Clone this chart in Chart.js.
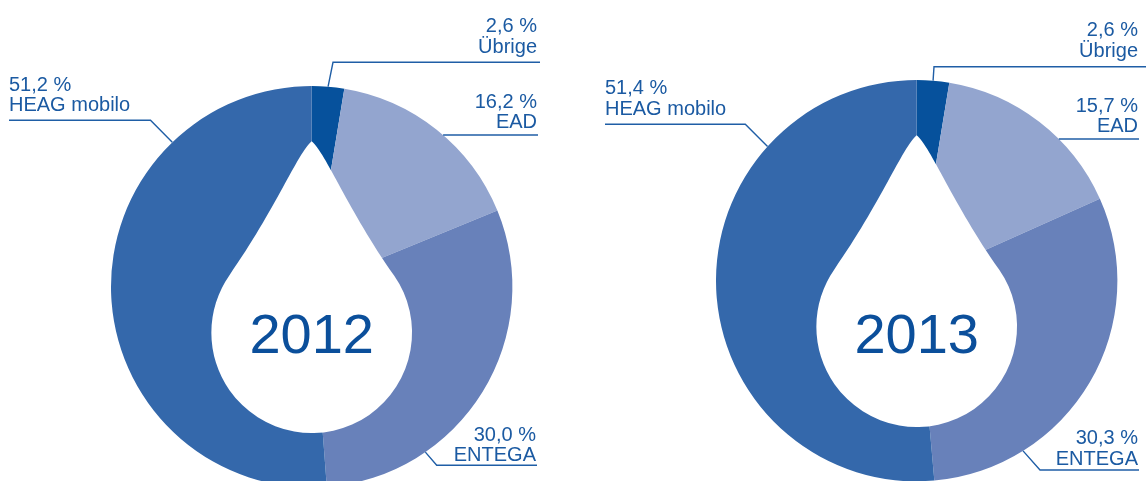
<!DOCTYPE html>
<html>
<head>
<meta charset="utf-8">
<script src="https://cdn.jsdelivr.net/npm/chart.js@4.4.1/dist/chart.umd.min.js"></script>
<style>
  html, body { margin: 0; padding: 0; background: #ffffff; overflow: hidden; width: 1146px; height: 481px; }
  canvas { position: absolute; top: 0; }
  #c2012 { left: 0; }
  #c2013 { left: 573px; }
</style>
</head>
<body>
<canvas id="c2012" width="573" height="500"></canvas>
<canvas id="c2013" width="573" height="500"></canvas>
<script>
// ---- data ----
const categories = ['Übrige', 'EAD', 'ENTEGA', 'HEAG mobilo'];
const values2012 = [2.6, 16.2, 30.0, 51.2];
const values2013 = [2.6, 15.7, 30.3, 51.4];
const years = ['2012', '2013'];

// ---- styles ----
const sliceColors = ['#06519c', '#93a5cf', '#6881ba', '#3468ab'];
const TEXT_COLOR = '#1b5aa2';
const LINE_COLOR = '#1f5ea6';
const YEAR_COLOR = '#0b4f9b';
const LABEL_FONT = '20px "Liberation Sans", Arial, sans-serif';
const YEAR_FONT = '56px "Liberation Sans", Arial, sans-serif';

// ---- label layout (page coordinates) ----
const layout2012 = {
  offsetX: 0,
  padding: { left: 111, right: 60.6, top: 86, bottom: 12.6 },
  yearBaseline: 352.5,
  labels: {
    'Übrige':      { align: 'right', x: 537, b1: 32.3, b2: 53.3, lineY: 62.3, lineEnd: 540, elbow: 333, angle: 'mid' },
    'EAD':         { align: 'right', x: 537, b1: 108.3, b2: 128.3, lineY: 135, lineEnd: 538 },
    'ENTEGA':      { align: 'right', x: 536, b1: 440.7, b2: 461, lineY: 465.3, lineEnd: 537, elbow: 436.7, angle: 145.5 },
    'HEAG mobilo': { align: 'left', x: 9, b1: 90.7, b2: 110.7, lineY: 120.3, lineEnd: 9, elbow: 150.5, angle: 316 }
  }
};
const layout2013 = {
  offsetX: 573,
  padding: { left: 143, right: 28.6, top: 80, bottom: 18.6 },
  yearBaseline: 352.5,
  labels: {
    'Übrige':      { align: 'right', x: 1138, b1: 35.7, b2: 57.3, lineY: 66.7, lineEnd: 1146, elbow: 934, angle: 'mid' },
    'EAD':         { align: 'right', x: 1138, b1: 111.7, b2: 131.7, lineY: 139, lineEnd: 1139 },
    'ENTEGA':      { align: 'right', x: 1138, b1: 444, b2: 465, lineY: 470, lineEnd: 1139, elbow: 1040, angle: 148 },
    'HEAG mobilo': { align: 'left', x: 605, b1: 94, b2: 115, lineY: 124.3, lineEnd: 605, elbow: 745.3, angle: 312 }
  }
};

function fmt(v) {
  return v.toFixed(1).replace('.', ',') + ' %';
}

const dropPlugin = {
  id: 'dropAndLabels',
  afterDraw(chart, args, opts) {
    const ctx = chart.ctx;
    const meta = chart.getDatasetMeta(0);
    const first = meta.data[0];
    const cx = first.x, cy = first.y, R = first.outerRadius;
    const L = opts.layout;
    const ox = L.offsetX;

    // white drop (relative units of bulb radius)
    const br = R * 0.5;
    const bx = cx, by = cy + R * 0.229;
    const tipY = cy - R * 0.725;
    const ca = 0.819, sa = 0.573;
    const c1x = 0.363, c1y = -1.225;   // control near bulb
    const c2x = 0.14,  c2y = -1.79;    // control near tip
    ctx.save();
    ctx.beginPath();
    ctx.moveTo(bx, tipY);
    ctx.bezierCurveTo(bx + br * c2x, by + br * c2y, bx + br * c1x, by + br * c1y, bx + br * ca, by - br * sa);
    ctx.arc(bx, by, br, Math.atan2(-sa, ca), Math.atan2(-sa, -ca) + 2 * Math.PI, false);
    ctx.bezierCurveTo(bx - br * c1x, by + br * c1y, bx - br * c2x, by + br * c2y, bx, tipY);
    ctx.closePath();
    ctx.fillStyle = '#ffffff';
    ctx.fill();

    // year
    ctx.fillStyle = YEAR_COLOR;
    ctx.font = YEAR_FONT;
    ctx.textAlign = 'center';
    ctx.textBaseline = 'alphabetic';
    ctx.fillText(opts.year, cx, L.yearBaseline);

    // labels
    const values = chart.data.datasets[0].data;
    chart.data.labels.forEach((cat, i) => {
      const s = L.labels[cat];
      if (!s) return;
      ctx.fillStyle = TEXT_COLOR;
      ctx.font = LABEL_FONT;
      ctx.textAlign = s.align;
      ctx.fillText(fmt(values[i]), s.x - ox, s.b1);
      ctx.fillText(cat, s.x - ox, s.b2);
      ctx.beginPath();
      ctx.strokeStyle = LINE_COLOR;
      ctx.lineWidth = 1.4;
      ctx.moveTo(s.lineEnd - ox, s.lineY);
      if (s.elbow != null) {
        ctx.lineTo(s.elbow - ox, s.lineY);
        let px, py;
        if (s.angle === 'mid') {
          const el = meta.data[i];
          const m = (el.startAngle + el.endAngle) / 2;
          px = cx + R * Math.cos(m); py = cy + R * Math.sin(m);
        } else {
          const a = s.angle * Math.PI / 180;
          px = cx + R * Math.sin(a); py = cy - R * Math.cos(a);
        }
        ctx.lineTo(px, py);
      } else {
        const dx = Math.sqrt(Math.max(R * R - (s.lineY - cy) * (s.lineY - cy), 0));
        ctx.lineTo(cx + dx, s.lineY);
      }
      ctx.stroke();
    });
    ctx.restore();
  }
};

function makeChart(id, values, year, layout) {
  return new Chart(document.getElementById(id), {
    type: 'pie',
    data: {
      labels: categories,
      datasets: [{
        data: values,
        backgroundColor: sliceColors,
        borderWidth: 0,
        hoverOffset: 0,
        offset: 0
      }]
    },
    options: {
      responsive: false,
      animation: false,
      devicePixelRatio: 1,
      layout: { padding: layout.padding },
      events: [],
      plugins: {
        legend: { display: false },
        tooltip: { enabled: false },
        dropAndLabels: { year: year, layout: layout }
      }
    },
    plugins: [dropPlugin]
  });
}

makeChart('c2012', values2012, years[0], layout2012);
makeChart('c2013', values2013, years[1], layout2013);
</script>
</body>
</html>
